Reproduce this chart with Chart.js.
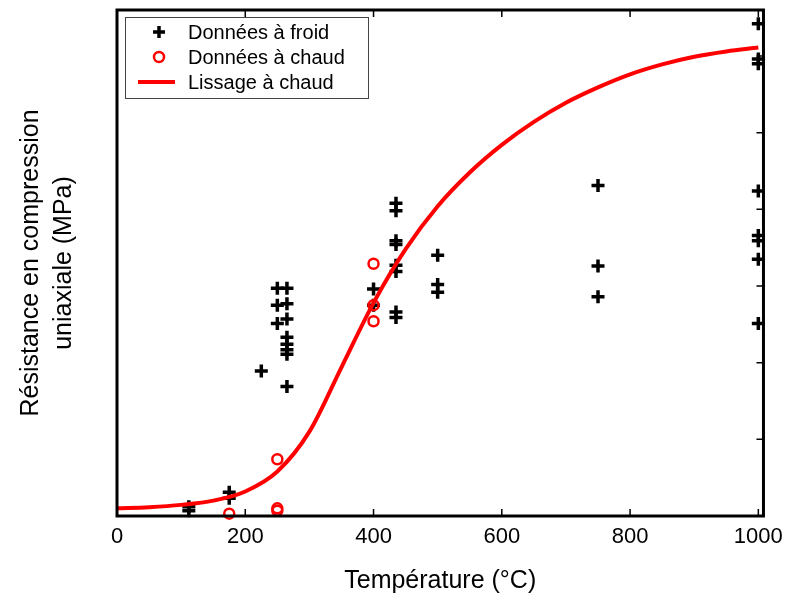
<!DOCTYPE html>
<html>
<head>
<meta charset="utf-8">
<script src="https://cdn.jsdelivr.net/npm/chart.js@4/dist/chart.umd.min.js"></script>
<style>
  html, body { margin: 0; padding: 0; background: #fff; }
  #wrap { width: 791px; height: 601px; }
</style>
</head>
<body>
<div id="wrap"><canvas id="c"></canvas></div>
<script>
// cold data (black +)
const coldX = [112, 112, 175, 175, 250, 265, 250, 265, 250, 265, 265, 265, 265, 265, 225, 265,
  400, 400, 435, 435, 435, 435, 435, 435, 435, 435, 500, 500, 500, 750, 750, 750,
  1000, 1000, 1000, 1000, 1000, 1000, 1000, 1000];
const coldY = [1.2, 0.7, 3.1, 2.3, 29.7, 29.7, 27.5, 27.7, 25.1, 25.7, 23.3, 22.4, 21.7, 21.1, 18.9, 16.9,
  29.6, 27.5, 40.8, 39.8, 35.9, 35.4, 32.7, 31.9, 26.6, 25.9, 34.0, 30.2, 29.2, 43.1, 32.6, 28.6,
  64.2, 59.6, 59.0, 42.4, 36.6, 35.9, 33.5, 25.1];
// hot data (red o)
const hotX = [175, 250, 250, 250, 400, 400, 400];
const hotY = [0.3, 7.4, 1.0, 0.7, 32.9, 27.5, 25.4];
// hot smoothing curve
const fitX = [0, 50, 100, 150, 200, 250, 300, 350, 400, 450, 500, 550, 600, 650, 700, 750, 800, 850, 900, 950, 1000];
const fitY = [1.0, 1.15, 1.45, 2.0, 3.2, 5.8, 11.0, 19.4, 27.8, 34.8, 40.4, 44.8, 48.4, 51.4, 53.9, 55.9, 57.6, 58.9, 59.9, 60.6, 61.1];
const xTicks = [0, 200, 400, 600, 800, 1000];
const yTicks = [10, 20, 30, 40, 50, 60];
const legendLabels = ['Données à froid', 'Données à chaud', 'Lissage à chaud'];

const toPts = (xs, ys) => xs.map((x, i) => ({ x, y: ys[i] }));

const FONT = 'Liberation Sans, Arial, Helvetica, sans-serif';

// frame, inward ticks and in-plot legend
const framePlugin = {
  id: 'frame',
  afterDatasetsDraw(chart) {
    const ctx = chart.ctx;
    const a = chart.chartArea;
    const xs = chart.scales.x, ys = chart.scales.y;
    ctx.save();
    ctx.strokeStyle = '#000';
    ctx.lineWidth = 1.5;
    ctx.beginPath();
    xTicks.forEach(v => {
      const px = xs.getPixelForValue(v);
      ctx.moveTo(px, a.bottom); ctx.lineTo(px, a.bottom - 7);
      ctx.moveTo(px, a.top); ctx.lineTo(px, a.top + 7);
    });
    yTicks.forEach(v => {
      const py = ys.getPixelForValue(v);
      ctx.moveTo(a.right, py); ctx.lineTo(a.right - 7, py);
    });
    ctx.stroke();
    ctx.lineWidth = 3;
    ctx.strokeRect(a.left, a.top, a.right - a.left, a.bottom - a.top);

    // legend
    const lx = a.left + 8, ly = a.top + 7, lw = 243, lh = 81;
    ctx.fillStyle = '#fff';
    ctx.fillRect(lx, ly, lw, lh);
    ctx.lineWidth = 1;
    ctx.strokeStyle = '#444';
    ctx.strokeRect(lx + 0.5, ly + 0.5, lw, lh);
    ctx.font = '20px ' + FONT;
    ctx.textBaseline = 'middle';
    legendLabels.forEach((t, i) => {
      const cy = ly + 15 + i * 25;
      const sx = lx + 34;
      if (i === 0) {
        ctx.strokeStyle = '#000'; ctx.lineWidth = 3.5;
        ctx.beginPath();
        ctx.moveTo(sx - 6, cy); ctx.lineTo(sx + 6, cy);
        ctx.moveTo(sx, cy - 6); ctx.lineTo(sx, cy + 6);
        ctx.stroke();
      } else if (i === 1) {
        ctx.strokeStyle = '#f00'; ctx.lineWidth = 2.5;
        ctx.beginPath(); ctx.arc(sx, cy, 5, 0, Math.PI * 2); ctx.stroke();
      } else {
        ctx.strokeStyle = '#f00'; ctx.lineWidth = 4;
        ctx.beginPath(); ctx.moveTo(sx - 21, cy); ctx.lineTo(sx + 16, cy); ctx.stroke();
      }
      ctx.fillStyle = '#000';
      ctx.fillText(t, lx + 63, cy + 1);
    });
    ctx.restore();
  }
};

new Chart(document.getElementById('c'), {
  type: 'scatter',
  data: {
    datasets: [
      {
        label: legendLabels[0],
        data: toPts(coldX, coldY),
        pointStyle: 'cross',
        pointRadius: 6.5,
        pointBorderWidth: 3.5,
        borderColor: '#000',
        backgroundColor: '#000',
        clip: false,
        order: 3
      },
      {
        label: legendLabels[2],
        type: 'line',
        data: toPts(fitX, fitY),
        borderColor: '#f00',
        borderWidth: 4,
        pointRadius: 0,
        cubicInterpolationMode: 'monotone',
        fill: false,
        clip: false,
        order: 2
      },
      {
        label: legendLabels[1],
        data: toPts(hotX, hotY),
        pointStyle: 'circle',
        pointRadius: 5,
        pointBorderWidth: 2.5,
        borderColor: '#f00',
        backgroundColor: 'rgba(0,0,0,0)',
        clip: false,
        order: 1
      }
    ]
  },
  options: {
    responsive: true,
    maintainAspectRatio: false,
    animation: false,
    layout: { padding: { top: 9, right: 24, left: 0, bottom: 0 } },
    plugins: { legend: { display: false }, tooltip: { enabled: false } },
    scales: {
      x: {
        type: 'linear',
        min: 0, max: 1008,
        afterBuildTicks: s => { s.ticks = xTicks.map(v => ({ value: v })); },
        afterFit: s => { s.height = 85; },
        grid: { display: false, drawTicks: false },
        border: { display: false },
        ticks: {
          color: '#000',
          font: { family: FONT, size: 22 },
          padding: 8,
          maxRotation: 0,
          callback: v => String(v)
        },
        title: {
          display: true,
          text: 'Température (°C)',
          color: '#000',
          font: { family: FONT, size: 25 },
          padding: { top: 0, bottom: 5 }
        }
      },
      y: {
        type: 'linear',
        min: 0, max: 66,
        afterFit: s => { s.width = 117; },
        grid: { display: false, drawTicks: false },
        border: { display: false },
        ticks: { display: false },
        title: {
          display: true,
          text: ['Résistance en compression', 'uniaxiale (MPa)'],
          color: '#000',
          font: { family: FONT, size: 25, lineHeight: 1.3 },
          padding: { top: 15, bottom: 0 }
        }
      }
    }
  },
  plugins: [framePlugin]
});
</script>
</body>
</html>
